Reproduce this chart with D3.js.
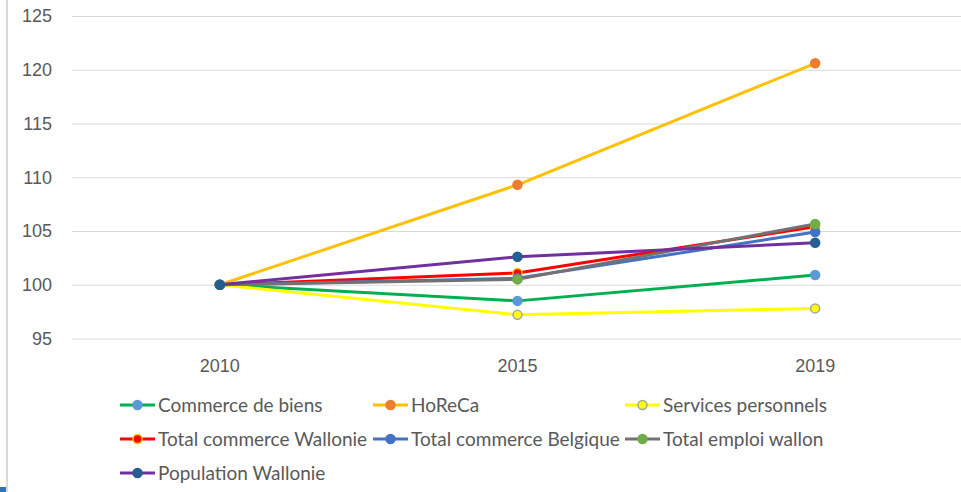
<!DOCTYPE html>
<html>
<head>
<meta charset="utf-8">
<script src="https://cdn.jsdelivr.net/npm/d3@7"></script>
<style>
  body { margin: 0; background: #fff; }
  svg { display: block; font-family: Lato, "Liberation Sans", sans-serif; }
  .tick text { fill: #595959; font-size: 18px; }
</style>
</head>
<body>
<svg id="chart"></svg>
<script>
const width = 961;
const height = 492;

// data (index, 2010 = 100)
const years = ["2010", "2015", "2019"];
const yTicks = [95, 100, 105, 110, 115, 120, 125];
const seriesNames = ["Commerce de biens", "HoReCa", "Services personnels",
  "Total commerce Wallonie", "Total commerce Belgique", "Total emploi wallon", "Population Wallonie"];
const commerceBiens = [100, 98.5, 100.9];
const horeca = [100, 109.3, 120.6];
const servicesPerso = [100, 97.2, 97.8];
const totalWallonie = [100, 101.1, 105.4];
const totalBelgique = [100, 100.6, 104.9];
const emploiWallon = [100, 100.5, 105.65];
const population = [100, 102.6, 103.9];

// line colour, marker fill, marker stroke
const styles = [
  { line: "#00B050", fill: "#5B9BD5", stroke: "#5B9BD5" },
  { line: "#FFC000", fill: "#ED7D31", stroke: "#ED7D31" },
  { line: "#FFFF00", fill: "#FFFF00", stroke: "#A5A5A5" },
  { line: "#FF0000", fill: "#FF0000", stroke: "#FFC000" },
  { line: "#4472C4", fill: "#4472C4", stroke: "#4472C4" },
  { line: "#767171", fill: "#70AD47", stroke: "#70AD47" },
  { line: "#7030A0", fill: "#255E91", stroke: "#255E91" }
];

const series = [commerceBiens, horeca, servicesPerso, totalWallonie, totalBelgique, emploiWallon, population]
  .map((values, i) => ({ name: seriesNames[i], values, style: styles[i] }));

const svg = d3.select("#chart").attr("width", width).attr("height", height);

// frame bits from the screenshot
svg.append("rect").attr("x", 6).attr("y", 0).attr("width", 2).attr("height", height).attr("fill", "#d9d9d9");
svg.append("rect").attr("x", 0).attr("y", 487).attr("width", 6).attr("height", 5).attr("fill", "#2E75B6");

const x = d3.scaleBand().domain(years).range([71, 964]);
const y = d3.scaleLinear().domain([95, 125]).range([338.5, 16]);

// gridlines + y labels
const yAxis = d3.axisLeft(y).tickValues(yTicks).tickSize(-(961 - 72)).tickPadding(20);
const yAxisG = svg.append("g").attr("transform", "translate(72,0)").call(yAxis);
yAxisG.select(".domain").remove();
yAxisG.selectAll(".tick line").attr("stroke", "#d9d9d9").attr("stroke-width", 1);
yAxisG.selectAll(".tick text").attr("x", -20);

// x labels
const xAxis = d3.axisBottom(x).tickSize(0).tickPadding(14);
const xAxisG = svg.append("g").attr("transform", "translate(0,345)").call(xAxis);
xAxisG.select(".domain").remove();

const line = d3.line()
  .x((d, i) => x(years[i]) + x.bandwidth() / 2)
  .y(d => y(d));

const sg = svg.append("g").selectAll("g").data(series).join("g");

sg.append("path")
  .attr("d", d => line(d.values))
  .attr("fill", "none")
  .attr("stroke", d => d.style.line)
  .attr("stroke-width", 3)
  .attr("stroke-linejoin", "round");

sg.selectAll("circle")
  .data(d => d.values.map((v, i) => ({ v, i, style: d.style })))
  .join("circle")
  .attr("cx", d => x(years[d.i]) + x.bandwidth() / 2)
  .attr("cy", d => y(d.v))
  .attr("r", 4.5)
  .attr("fill", d => d.style.fill)
  .attr("stroke", d => d.style.stroke)
  .attr("stroke-width", 1.5);

// legend, 3 columns
const colX = [120, 373, 625];
const rowY = [405, 439, 473];
const lg = svg.append("g").selectAll("g").data(series).join("g")
  .attr("transform", (d, i) => `translate(${colX[i % 3]},${rowY[Math.floor(i / 3)]})`);

lg.append("line")
  .attr("x1", 0).attr("x2", 35)
  .attr("stroke", d => d.style.line)
  .attr("stroke-width", 3);
lg.append("circle")
  .attr("cx", 17.5).attr("r", 4.5)
  .attr("fill", d => d.style.fill)
  .attr("stroke", d => d.style.stroke)
  .attr("stroke-width", 1.5);
lg.append("text")
  .attr("x", 38).attr("dy", "0.35em")
  .attr("fill", "#595959")
  .style("font-size", "19px")
  .text(d => d.name);
</script>
</body>
</html>
